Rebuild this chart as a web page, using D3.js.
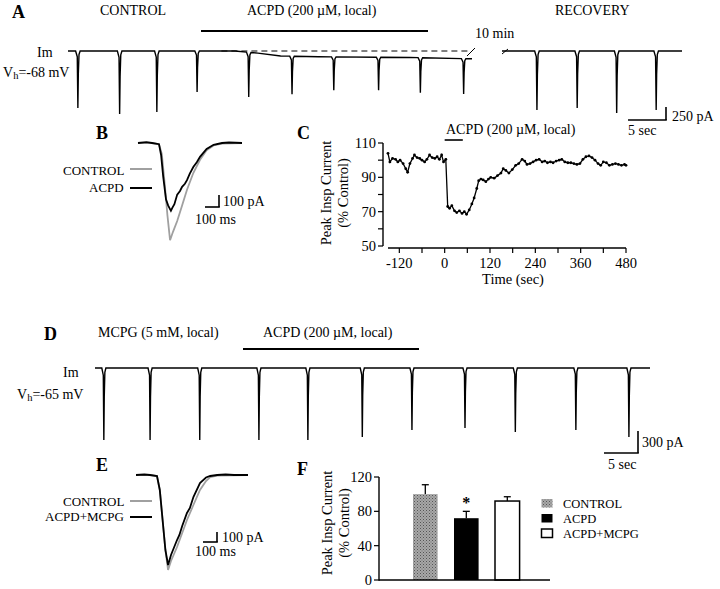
<!DOCTYPE html>
<html><head><meta charset="utf-8">
<script src="https://d3js.org/d3.v7.min.js"></script>
<style>
body{margin:0;background:#fff}
svg{display:block}
text{font-family:"Liberation Serif","Times New Roman",serif;fill:#000}
</style>
</head><body><script>
// ---------------- DATA ----------------
// spike waveform template (seconds relative to peak, fraction of amplitude)
const spikeTemplateT = [-0.3, -0.08, 0, 0.06, 0.15, 0.3];
const spikeTemplateF = [0, 0.1, 1, 0.4, 0.06, 0];

// Panel A: control + ACPD trace (s, pA)
const a1SpikeTimes = [1.3, 6.8, 11.7, 17.0, 23.8, 29.5, 35.0, 40.9, 46.4, 52.1];
const a1SpikeAmps  = [1096, 1212, 1173, 790, 860, 730, 640, 635, 673, 680];
const a1HoldT = [0, 22, 25, 28, 33, 45, 53.2];
const a1HoldI = [0, 0, -40, -95, -110, -125, -150];
// Panel A: recovery trace
const a2SpikeTimes = [4.6, 9.9, 15.1, 20.3];
const a2SpikeAmps  = [1135, 1096, 1192, 1135];
const a2HoldT = [0, 23.7];
const a2HoldI = [0, 0];

// Panel B: averaged inspiratory currents (ms, pA)
const bControlT = [0,100,150,170,190,210,229,250,280,315,350,395,443,490,540,600,743];
const bControlI = [0,0,-10,-90,-330,-600,-810,-740,-650,-520,-390,-250,-140,-60,-20,-5,0];
const bAcpdT = [0,60,100,150,165,180,200,215,235,245,260,280,300,315,335,350,370,395,420,443,490,540,600,650,743];
const bAcpdI = [0,8,0,-10,-100,-280,-470,-520,-565,-540,-510,-430,-400,-365,-340,-310,-255,-200,-160,-115,-50,-15,0,4,0];

// Panel C: time course (sec, % control)
const cTime = [-150,-145,-138,-130,-124,-118,-110,-103,-98,-92,-85,-80,-73,-66,-60,-53,-47,-40,-33,-26,-20,-14,-8,-3,3,8,13,19,26,32,39,46,52,58,65,72,78,85,90,96,102,109,116,122,131,140,149,155,162,170,179,188,196,205,212,218,226,234,242,250,258,265,272,280,287,295,303,310,318,326,334,342,350,358,366,374,382,390,398,406,413,420,428,436,444,452,460,468,476,480];
const cValue = [104,99,101,100.5,99,100,98,95,93,98,101,103,101.5,101,100,99,100.5,103,101.5,101,102,100.5,103,99,100.5,73,72,73.5,70.5,69.5,70.5,69,70,68.5,71,74.5,78,83.5,88,89,88.5,87.5,89,90,89.5,91,92.5,95,94,92.5,94.5,97,98,100.5,99.5,97.5,98,99,100,100.5,99,99.5,98.5,99,98.5,99.5,100,100.5,99,98.5,98.5,98,97.5,98,100.5,102,102.5,101.5,100,98,97,99,98.5,97,97.5,98,97.5,97,97.5,97];
const cYTicks = [50,60,70,80,90,100,110];
const cYLabels = [50,70,90,110];
const cXTicks = [-120,-60,0,60,120,180,240,300,360,420,480];
const cXLabels = [-120,0,120,240,360,480];

// Panel D: MCPG + ACPD trace
const dSpikeTimes = [1.3, 8.1, 15.4, 24.1, 31.3, 39.3, 46.6, 54.4, 61.8, 70.7, 78.5];
const dSpikeAmps  = [982, 982, 982, 982, 982, 941, 845, 818, 873, 845, 941];
const dHoldT = [0, 81.6];
const dHoldI = [0, 0];

// Panel E: averaged currents (ms, pA)
const eControlT = [0,100,150,170,190,210,229,250,293,330,364,410,457,500,530,580,800];
const eControlI = [0,0,-10,-150,-450,-750,-950,-860,-720,-580,-450,-300,-150,-60,-20,-5,0];
const eMcpgT = [0,60,100,150,170,190,210,229,250,270,293,310,330,364,385,410,457,500,530,580,640,700,800];
const eMcpgI = [0,5,0,-10,-150,-450,-750,-900,-800,-730,-650,-600,-510,-380,-330,-220,-80,-25,-10,0,5,0,0];

// Panel F: summary bars
const fCategories = ["CONTROL", "ACPD", "ACPD+MCPG"];
const fMeans = [100, 72, 92];
const fErrors = [11, 8, 5];
const fYTicks = [0, 40, 80, 120];

// ---------------- DRAWING ----------------
const svg = d3.select("body").append("svg").attr("width", 720).attr("height", 589);
const defs = svg.append("defs");
const pat = defs.append("pattern").attr("id","stip").attr("width",3).attr("height",3).attr("patternUnits","userSpaceOnUse");
pat.append("rect").attr("width",3).attr("height",3).attr("fill","#a8a8a8");
pat.append("rect").attr("width",1).attr("height",1).attr("fill","#555");
pat.append("rect").attr("x",1.5).attr("y",1.5).attr("width",1).attr("height",1).attr("fill","#6e6e6e");

function txt(x, y, s, size, opts = {}) {
  const t = svg.append("text").attr("x", x).attr("y", y).attr("font-size", size).text(s);
  if (opts.anchor) t.attr("text-anchor", opts.anchor);
  if (opts.bold) t.attr("font-weight", "bold");
  return t;
}
function vh(x, y, val, size) {
  const t = svg.append("text").attr("x", x).attr("y", y).attr("font-size", size);
  t.append("tspan").text("V");
  t.append("tspan").attr("font-size", size * 0.75).attr("dy", 2).text("h");
  t.append("tspan").attr("dy", -2).text("=" + val + " mV");
}
function seg(x1, y1, x2, y2, w = 1, c = "#000", dash = null) {
  const l = svg.append("line").attr("x1", x1).attr("y1", y1).attr("x2", x2).attr("y2", y2)
    .attr("stroke", c).attr("stroke-width", w);
  if (dash) l.attr("stroke-dasharray", dash);
  return l;
}
function buildTrace(t0, t1, holdT, holdI, spT, spA) {
  const hold = d3.scaleLinear().domain(holdT).range(holdI).clamp(true);
  const pts = holdT.map((t, i) => [t, holdI[i]]);
  spT.forEach((s, i) => spikeTemplateT.forEach((dt, j) => pts.push([s + dt, hold(s + dt) - spA[i] * spikeTemplateF[j]])));
  pts.sort((a, b) => a[0] - b[0]);
  return pts.filter(p => p[0] >= t0 && p[0] <= t1);
}
function drawPath(data, x, y, color, w) {
  svg.append("path").datum(data)
    .attr("d", d3.line().x(d => x(d[0])).y(d => y(d[1])))
    .attr("fill", "none").attr("stroke", color).attr("stroke-width", w).attr("stroke-linejoin", "miter");
}

// ===== Panel A =====
txt(12, 18, "A", 18, { bold: true });
txt(100, 15, "CONTROL", 14);
txt(247, 15, "ACPD (200 \u00b5M, local)", 14);
txt(555, 15, "RECOVERY", 14);
seg(201, 31, 428, 31, 2);
txt(475, 38, "10 min", 14);
txt(37, 57, "Im", 14);
vh(3, 77, "-68", 14);

const xA1 = d3.scaleLinear().domain([0, 53.2]).range([68, 472]);
const yA = d3.scaleLinear().domain([0, -250]).range([51, 64]);
drawPath(buildTrace(0, 53.2, a1HoldT, a1HoldI, a1SpikeTimes, a1SpikeAmps), xA1, yA, "#000", 1.4);
seg(xA1(20.2), yA(0), 470, yA(0), 1, "#000", "6,4");
seg(467, 56, 475, 48, 1);
const xA2 = d3.scaleLinear().domain([0, 23.7]).range([502, 682]);
drawPath(buildTrace(0, 23.7, a2HoldT, a2HoldI, a2SpikeTimes, a2SpikeAmps), xA2, yA, "#000", 1.4);
seg(502, 54, 508, 49, 1);
// scale bar A
{
  const bx = 666, by = 120;
  const h = yA(-250) - yA(0), w = xA1(5) - xA1(0);
  seg(bx, by, bx, by - h, 1.6);
  seg(bx - w, by, bx + 0.8, by, 1.6);
  txt(672, 121, "250 pA", 14);
  txt(628, 135, "5 sec", 14);
}

// ===== Panel B =====
txt(96, 139, "B", 18, { bold: true });
const xB = d3.scaleLinear().domain([0, 100]).range([138, 152]);
const yB = d3.scaleLinear().domain([0, -100]).range([143, 155]);
drawPath(bControlT.map((t, i) => [t, bControlI[i]]), xB, yB, "#a0a0a0", 1.8);
drawPath(bAcpdT.map((t, i) => [t, bAcpdI[i]]), xB, yB, "#000", 1.8);
txt(63, 175, "CONTROL", 13);
seg(130, 169, 152, 169, 2, "#a0a0a0");
txt(89, 192, "ACPD", 13);
seg(130, 188, 152, 188, 2);
{
  const bx = 219, by = 207;
  seg(bx, by, bx, by - (yB(-100) - yB(0)), 1.6);
  seg(bx - (xB(100) - xB(0)), by, bx + 0.8, by, 1.6);
  txt(223, 206, "100 pA", 14);
  txt(195, 224, "100 ms", 14);
}

// ===== Panel C =====
txt(297, 139, "C", 18, { bold: true });
txt(446, 134, "ACPD (200 \u00b5M, local)", 14);
const xC = d3.scaleLinear().domain([-150, 480]).range([388, 626]);
const yC = d3.scaleLinear().domain([50, 110]).range([246, 143]);
seg(xC(0), 140, xC(48), 140, 1.6);
seg(383, yC(110), 383, yC(50), 1.4);
cYTicks.forEach(v => seg(378, yC(v), 383, yC(v), 1.2));
cYLabels.forEach(v => txt(376, yC(v) + 5, String(v), 14.5, { anchor: "end" }));
seg(xC(-150), 248, xC(480), 248, 1.4);
cXTicks.forEach(v => seg(xC(v), 248, xC(v), 253, 1.2));
cXLabels.forEach(v => txt(xC(v), 268, String(v), 14.5, { anchor: "middle" }));
txt(513, 284, "Time (sec)", 14.5, { anchor: "middle" });
svg.append("text").attr("transform", "translate(331,193) rotate(-90)").attr("text-anchor", "middle").attr("font-size", 14.5).text("Peak Insp Current");
svg.append("text").attr("transform", "translate(348,193) rotate(-90)").attr("text-anchor", "middle").attr("font-size", 14.5).text("(% Control)");
const cData = cTime.map((t, i) => [t, cValue[i]]);
drawPath(cData, xC, yC, "#000", 1.3);
svg.selectAll(".cpt").data(cData).enter().append("circle")
  .attr("cx", d => xC(d[0])).attr("cy", d => yC(d[1])).attr("r", 1.4).attr("fill", "#000");

// ===== Panel D =====
txt(44, 340, "D", 18, { bold: true });
txt(98, 337, "MCPG (5 mM, local)", 14);
txt(263, 337, "ACPD (200 \u00b5M, local)", 14);
seg(243, 349, 419, 349, 2);
txt(63, 377, "Im", 14);
vh(17, 399, "-65", 14);
const xD = d3.scaleLinear().domain([0, 81.6]).range([95, 650]);
const yD = d3.scaleLinear().domain([0, -300]).range([368, 390]);
drawPath(buildTrace(0, 81.6, dHoldT, dHoldI, dSpikeTimes, dSpikeAmps), xD, yD, "#000", 1.4);
{
  const bx = 638, by = 453;
  seg(bx, by, bx, by - (yD(-300) - yD(0)), 1.6);
  seg(bx - (xD(5) - xD(0)), by, bx + 0.8, by, 1.6);
  txt(642, 447, "300 pA", 14);
  txt(608, 469, "5 sec", 14);
}

// ===== Panel E =====
txt(96, 471, "E", 18, { bold: true });
const xE = d3.scaleLinear().domain([0, 100]).range([136, 150]);
const yE = d3.scaleLinear().domain([0, -100]).range([475, 485]);
drawPath(eControlT.map((t, i) => [t, eControlI[i]]), xE, yE, "#a0a0a0", 1.8);
drawPath(eMcpgT.map((t, i) => [t, eMcpgI[i]]), xE, yE, "#000", 1.8);
txt(63, 506, "CONTROL", 13);
seg(130, 501, 152, 501, 2, "#a0a0a0");
txt(45, 521, "ACPD+MCPG", 13);
seg(130, 517, 152, 517, 2);
{
  const bx = 217, by = 542;
  seg(bx, by, bx, by - (yE(-100) - yE(0)), 1.6);
  seg(bx - (xE(100) - xE(0)), by, bx + 0.8, by, 1.6);
  txt(222, 542, "100 pA", 14);
  txt(195, 556, "100 ms", 14);
}

// ===== Panel F =====
txt(297, 475, "F", 18, { bold: true });
const yF = d3.scaleLinear().domain([0, 120]).range([580, 477]);
const xF = d3.scaleBand().domain(fCategories).range([396.6, 536]).paddingInner(0.4).paddingOuter(0.4);
const fills = ["url(#stip)", "#000", "#fff"];
fCategories.forEach((c, i) => {
  const x0 = xF(c), w = xF.bandwidth(), cx = x0 + w / 2;
  seg(cx, yF(fMeans[i]), cx, yF(fMeans[i] + fErrors[i]), 1.3);
  seg(cx - 3.5, yF(fMeans[i] + fErrors[i]), cx + 3.5, yF(fMeans[i] + fErrors[i]), 1.3);
  svg.append("rect").attr("x", x0).attr("y", yF(fMeans[i])).attr("width", w)
    .attr("height", yF(0) - yF(fMeans[i])).attr("fill", fills[i])
    .attr("stroke", i === 2 ? "#000" : "none").attr("stroke-width", 1.5);
});
txt(xF("ACPD") + xF.bandwidth() / 2, 508, "*", 16, { anchor: "middle", bold: true });
seg(379, yF(120), 379, yF(0) + 0.7, 1.4);
seg(379, yF(0), 550, yF(0), 1.4);
fYTicks.forEach(v => {
  seg(374, yF(v), 379, yF(v), 1.2);
  txt(372, yF(v) + 5, String(v), 14.5, { anchor: "end" });
});
svg.append("text").attr("transform", "translate(332,523) rotate(-90)").attr("text-anchor", "middle").attr("font-size", 14.5).text("Peak Insp Current");
svg.append("text").attr("transform", "translate(349,523) rotate(-90)").attr("text-anchor", "middle").attr("font-size", 14.5).text("(% Control)");
const legY = [499, 514, 529];
fCategories.forEach((c, i) => {
  svg.append("rect").attr("x", 541.5).attr("y", legY[i]).attr("width", 11).attr("height", 8.5)
    .attr("fill", fills[i]).attr("stroke", i === 2 ? "#000" : "none").attr("stroke-width", 1.5);
  txt(563, legY[i] + 9, c, 12.5);
});
</script></body></html>
